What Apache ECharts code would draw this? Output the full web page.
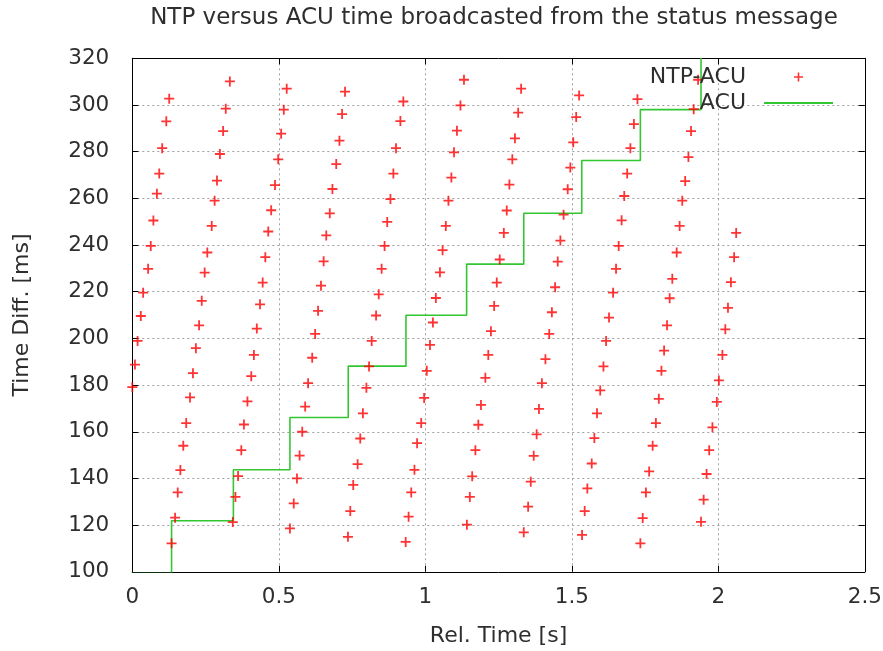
<!DOCTYPE html>
<html>
<head>
<meta charset="utf-8">
<script src="https://cdn.jsdelivr.net/npm/echarts@6/dist/echarts.min.js"></script>
<style>
  html, body { margin: 0; padding: 0; background: #ffffff; }
  #chart { width: 883px; height: 651px; }
</style>
</head>
<body>
<div id="chart"></div>
<script>
// NTP minus ACU time difference, one row per sawtooth cycle
const relTime = [
  0.000, 0.009, 0.018, 0.029, 0.037, 0.054, 0.063, 0.072, 0.084, 0.092, 0.102, 0.116, 0.126,
  0.134, 0.146, 0.155, 0.164, 0.174, 0.184, 0.197, 0.207, 0.217, 0.228, 0.237, 0.247, 0.256, 0.271, 0.281, 0.289, 0.299, 0.310, 0.319, 0.333,
  0.343, 0.352, 0.361, 0.372, 0.381, 0.393, 0.406, 0.415, 0.425, 0.436, 0.445, 0.454, 0.464, 0.474, 0.487, 0.498, 0.508, 0.517, 0.527,
  0.538, 0.551, 0.562, 0.571, 0.580, 0.590, 0.600, 0.614, 0.624, 0.634, 0.644, 0.653, 0.662, 0.674, 0.683, 0.696, 0.707, 0.716, 0.726,
  0.736, 0.744, 0.754, 0.769, 0.778, 0.787, 0.799, 0.808, 0.817, 0.832, 0.841, 0.851, 0.861, 0.870, 0.881, 0.891, 0.900, 0.915, 0.925,
  0.933, 0.943, 0.952, 0.963, 0.972, 0.986, 0.996, 1.005, 1.016, 1.026, 1.036, 1.050, 1.059, 1.070, 1.079, 1.089, 1.098, 1.108, 1.120, 1.132,
  1.142, 1.152, 1.160, 1.171, 1.181, 1.190, 1.205, 1.215, 1.224, 1.235, 1.244, 1.254, 1.268, 1.278, 1.287, 1.297, 1.306, 1.317, 1.327,
  1.336, 1.351, 1.360, 1.370, 1.380, 1.388, 1.398, 1.410, 1.423, 1.432, 1.443, 1.452, 1.461, 1.472, 1.486, 1.495, 1.505, 1.515, 1.525,
  1.535, 1.544, 1.553, 1.568, 1.577, 1.586, 1.597, 1.608, 1.617, 1.627, 1.641, 1.651, 1.660, 1.670, 1.679, 1.689, 1.700, 1.712, 1.724,
  1.734, 1.742, 1.753, 1.764, 1.776, 1.787, 1.797, 1.806, 1.815, 1.825, 1.834, 1.843, 1.858, 1.868, 1.877, 1.887, 1.898, 1.907, 1.916, 1.931,
  1.941, 1.950, 1.960, 1.969, 1.980, 1.995, 2.002, 2.014, 2.024, 2.033, 2.043, 2.054, 2.061
];
const ntpAcuDiff = [
  179.1, 188.8, 198.9, 209.6, 219.6, 229.8, 239.6, 250.5, 262.0, 270.6, 281.5, 293.0, 302.7,
  112.2, 123.2, 134.0, 143.6, 154.0, 163.7, 174.7, 185.1, 195.8, 205.6, 216.1, 228.2, 236.8, 248.2, 259.0, 267.6, 279.0, 288.8, 298.4, 310.1,
  121.3, 132.1, 141.0, 152.1, 163.1, 173.0, 183.8, 192.9, 204.2, 214.6, 223.9, 234.8, 245.8, 254.9, 265.7, 276.7, 287.7, 298.0, 307.0,
  118.6, 129.3, 140.0, 149.8, 160.0, 170.8, 180.8, 191.7, 201.9, 211.8, 222.6, 233.0, 244.1, 253.6, 264.0, 274.7, 284.7, 296.1, 305.7,
  115.0, 126.0, 137.2, 146.1, 157.1, 167.9, 178.8, 188.0, 198.9, 209.8, 218.9, 229.8, 239.6, 249.9, 259.7, 270.6, 281.5, 293.1, 301.5,
  112.8, 123.6, 134.0, 143.7, 155.1, 163.7, 174.5, 186.1, 197.2, 206.8, 217.3, 228.3, 237.8, 248.2, 259.0, 268.9, 279.7, 289.0, 299.8, 310.8,
  120.2, 132.1, 140.9, 152.1, 163.0, 171.5, 183.1, 192.9, 203.1, 213.9, 223.9, 233.8, 245.2, 254.8, 265.9, 276.7, 285.7, 296.7, 307.0,
  116.9, 127.9, 138.6, 149.7, 158.9, 169.8, 180.8, 191.1, 201.9, 211.2, 221.9, 232.9, 241.9, 253.0, 263.9, 273.2, 284.0, 294.8, 304.1,
  115.8, 126.0, 135.7, 146.4, 157.3, 167.9, 177.7, 188.0, 198.9, 208.9, 219.6, 229.8, 239.6, 250.6, 261.0, 270.6, 281.5, 291.8, 302.5,
  112.2, 123.0, 134.0, 143.0, 154.0, 163.7, 174.1, 186.1, 194.8, 205.6, 217.2, 225.5, 236.8, 248.2, 259.0, 267.4, 277.7, 288.8, 298.2, 310.8,
  121.4, 130.9, 141.9, 152.1, 161.9, 172.8, 182.0, 192.9, 203.9, 213.1, 224.1, 234.8, 245.2
];

// ACU broadcast value: each value holds until the next broadcast
const acuTime = [-0.066, 0.134, 0.345, 0.538, 0.737, 0.934, 1.141, 1.336, 1.534, 1.734, 1.941];
const acuDiff = [99.4, 121.9, 143.7, 166.1, 188.1, 209.9, 231.8, 253.6, 276.2, 298.0, 320.2];

// Axis ranges and tick steps
const xRange = { min: 0, max: 2.5, interval: 0.5 };
const yRange = { min: 100, max: 320, interval: 20 };

const FONT = 'DejaVu Sans';
const TEXT_COLOR = '#2e2e2e';
const RED = '#ff0000';
const GREEN = '#33c633';
const PLUS = 'path://M4.1,0H5.9V4.1H10V5.9H5.9V10H4.1V5.9H0V4.1H4.1Z';

const chart = echarts.init(document.getElementById('chart'), null, { renderer: 'canvas' });

const gridLine = {
  show: true,
  showMinLine: false,
  showMaxLine: false,
  lineStyle: { color: '#a0a0a0', width: 1, type: [2, 3] }
};
const borderLine = { show: true, onZero: false, lineStyle: { color: '#000000', width: 1 } };
const innerTick = { show: true, inside: true, length: 6, lineStyle: { color: '#000000', width: 1 } };
const tickLabel = { fontFamily: FONT, fontSize: 21.5, color: TEXT_COLOR };

chart.setOption({
  animation: false,
  backgroundColor: '#ffffff',
  textStyle: { fontFamily: FONT },
  title: {
    text: 'NTP versus ACU time broadcasted from the status message',
    left: 494,
    top: 7,
    padding: 0,
    textAlign: 'center',
    textStyle: { fontFamily: FONT, fontSize: 23, fontWeight: 'normal', color: TEXT_COLOR }
  },
  legend: {
    orient: 'vertical',
    right: 50,
    top: 66,
    padding: 0,
    align: 'right',
    itemWidth: 69,
    itemHeight: 9,
    itemGap: 4,
    selectedMode: false,
    formatter: (name) => '{t|' + name + '}',
    textStyle: {
      fontFamily: FONT, fontSize: 22, lineHeight: 21, color: TEXT_COLOR,
      rich: { t: { fontFamily: FONT, fontSize: 22, lineHeight: 21, color: TEXT_COLOR, padding: [0, 13, 0, 0] } }
    },
    data: [
      { name: 'NTP-ACU', icon: PLUS, itemStyle: { color: RED } },
      { name: 'ACU', icon: 'path://M0,0H69V2H0Z', itemStyle: { color: GREEN } }
    ]
  },
  grid: {
    left: 132.3,
    right: 18.2,
    top: 58.3,
    bottom: 79.2,
    containLabel: false,
    outerBoundsMode: 'none'
  },
  xAxis: [
    {
      type: 'value', position: 'bottom', ...xRange,
      name: 'Rel. Time [s]', nameLocation: 'middle', nameGap: 53,
      nameTextStyle: { fontFamily: FONT, fontSize: 22, color: TEXT_COLOR },
      axisLine: borderLine, axisTick: innerTick,
      axisLabel: { ...tickLabel, margin: 15 },
      splitLine: gridLine
    },
    {
      type: 'value', position: 'top', ...xRange,
      axisLine: borderLine, axisTick: innerTick,
      axisLabel: { show: false }, splitLine: { show: false }
    }
  ],
  yAxis: [
    {
      type: 'value', position: 'left', ...yRange,
      name: 'Time Diff. [ms]', nameLocation: 'middle', nameGap: 99,
      nameTextStyle: { fontFamily: FONT, fontSize: 22, color: TEXT_COLOR },
      axisLine: borderLine, axisTick: innerTick,
      axisLabel: { ...tickLabel, margin: 23 },
      splitLine: gridLine
    },
    {
      type: 'value', position: 'right', ...yRange,
      axisLine: borderLine, axisTick: innerTick,
      axisLabel: { show: false }, splitLine: { show: false }
    }
  ],
  series: [
    {
      name: 'NTP-ACU',
      type: 'scatter',
      xAxisIndex: 0,
      yAxisIndex: 0,
      symbol: PLUS,
      symbolSize: 10,
      itemStyle: { color: RED },
      data: relTime.map((t, i) => [t, ntpAcuDiff[i]]),
      z: 3
    },
    {
      name: 'ACU',
      type: 'line',
      xAxisIndex: 0,
      yAxisIndex: 0,
      step: 'end',
      symbol: 'none',
      clip: true,
      lineStyle: { color: GREEN, width: 1.6 },
      itemStyle: { color: GREEN },
      data: acuTime.map((t, i) => [t, acuDiff[i]]),
      z: 2
    }
  ]
});
</script>
</body>
</html>
